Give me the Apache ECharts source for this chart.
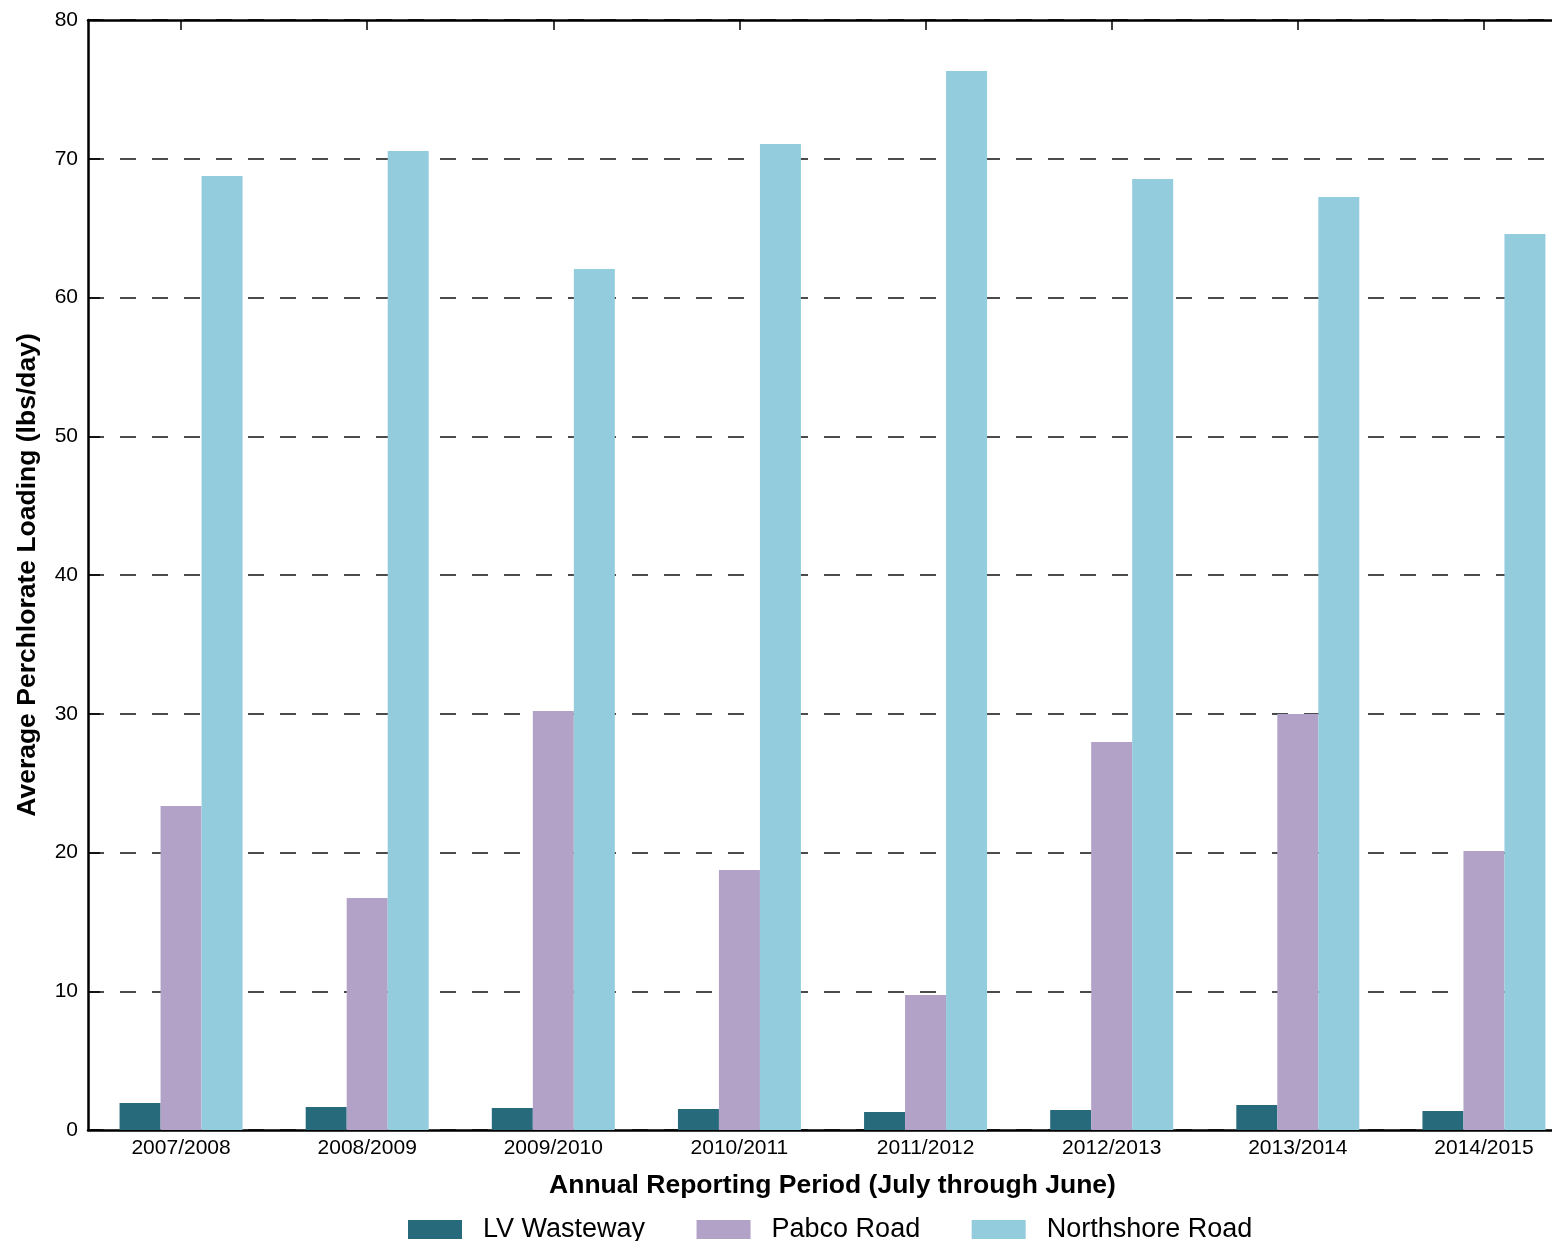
<!DOCTYPE html>
<html>
<head>
<meta charset="utf-8">
<script src="https://cdn.jsdelivr.net/npm/echarts@6/dist/echarts.min.js"></script>
<style>
  html, body { margin: 0; padding: 0; background: #fff; overflow: hidden; }
  #chart { width: 1552px; height: 1241px; }
</style>
</head>
<body>
<div id="chart"></div>
<script>
// Annual reporting periods (July through June)
const periods = ['2007/2008', '2008/2009', '2009/2010', '2010/2011', '2011/2012', '2012/2013', '2013/2014', '2014/2015'];

// Average perchlorate loading, lbs/day
const lvWasteway = [1.95, 1.66, 1.59, 1.51, 1.30, 1.44, 1.80, 1.37];
const pabcoRoad = [23.35, 16.72, 30.2, 18.74, 9.73, 27.96, 29.98, 20.1];
const northshoreRoad = [68.76, 70.56, 62.05, 71.06, 76.32, 68.54, 67.24, 64.58];

const yTicks = { min: 0, max: 80, interval: 10 };

const font = 'Liberation Sans, Arial, Helvetica, sans-serif';
const chart = echarts.init(document.getElementById('chart'));

const barSeries = (name, data, color) => ({
  name: name,
  type: 'bar',
  data: data,
  barWidth: 41,
  barGap: '0%',
  itemStyle: { color: color },
  xAxisIndex: 0,
  yAxisIndex: 0
});

chart.setOption({
  animation: false,
  backgroundColor: '#ffffff',
  // the plot area runs a little past the right edge of the canvas
  grid: { left: 88, width: 1489, top: 20, bottom: 111, containLabel: false, outerBoundsMode: 'none' },
  legend: {
    left: 403,
    top: 1211,
    itemWidth: 54,
    itemHeight: 19,
    itemGap: 51.5,
    icon: 'rect',
    textStyle: { fontFamily: font, fontSize: 27, color: '#000', padding: [0, 0, 0, 16] },
    data: ['LV Wasteway', 'Pabco Road', 'Northshore Road']
  },
  xAxis: [
    {
      type: 'category',
      data: periods,
      position: 'bottom',
      name: 'Annual Reporting Period (July through June)',
      nameLocation: 'middle',
      nameGap: 42,
      nameTextStyle: { fontFamily: font, fontSize: 26.5, fontWeight: 'bold', color: '#000' },
      axisLine: { show: true, lineStyle: { color: '#000', width: 2.5 } },
      axisTick: { show: false },
      axisLabel: { fontFamily: font, fontSize: 21, color: '#000', margin: 8 },
      splitLine: { show: false }
    },
    {
      type: 'category',
      data: periods,
      position: 'top',
      axisLine: { show: true, lineStyle: { color: '#000', width: 2.5 } },
      axisTick: { show: true, inside: true, alignWithLabel: true, length: 10, lineStyle: { color: '#000', width: 1.5 } },
      axisLabel: { show: false },
      splitLine: { show: false }
    }
  ],
  yAxis: {
    type: 'value',
    min: yTicks.min,
    max: yTicks.max,
    interval: yTicks.interval,
    name: 'Average Perchlorate Loading (lbs/day)',
    nameLocation: 'middle',
    nameGap: 47,
    nameTextStyle: { fontFamily: font, fontSize: 26.5, fontWeight: 'bold', color: '#000' },
    axisLine: { show: true, lineStyle: { color: '#000', width: 2.5 } },
    axisTick: { show: true, inside: true, length: 12, lineStyle: { color: '#000', width: 1.5 } },
    axisLabel: { fontFamily: font, fontSize: 21, color: '#000', margin: 10 },
    splitLine: { show: true, lineStyle: { color: '#111', width: 1.5, type: [16, 16] } }
  },
  series: [
    barSeries('LV Wasteway', lvWasteway, '#276a7b'),
    barSeries('Pabco Road', pabcoRoad, '#b2a2c7'),
    barSeries('Northshore Road', northshoreRoad, '#93ccdd')
  ]
});
</script>
</body>
</html>
